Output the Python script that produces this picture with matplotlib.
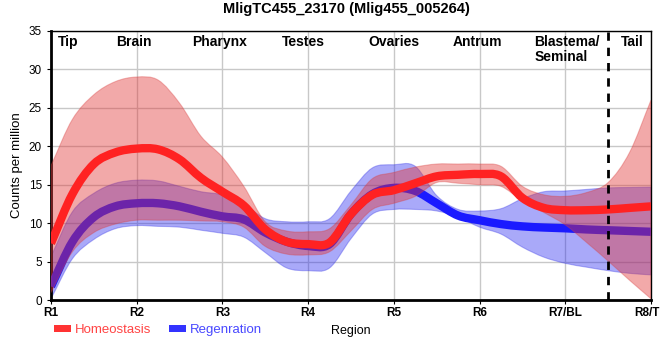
import numpy as np
import matplotlib
matplotlib.use("Agg")
import matplotlib.pyplot as plt
from matplotlib.path import Path
from matplotlib.patches import PathPatch, Patch

plt.rcParams['font.family'] = ['Liberation Sans', 'DejaVu Sans']

# ---------------- data ----------------
tick_labels = ["R1", "R2", "R3", "R4", "R5", "R6", "R7/BL", "R8/TP"]
region_names = ["Tip", "Brain", "Pharynx", "Testes", "Ovaries", "Antrum", "Blastema/\nSeminal", "Tail"]
region_pos = [0.2, 0.97, 1.97, 2.94, 4.0, 4.97, 5.64, 6.78]
region_ha = ["center", "center", "center", "center", "center", "center", "left", "center"]

positions = [0, 0.25, 0.5, 0.75, 1, 1.25, 1.5, 1.75, 2, 2.25, 2.5, 2.75, 3, 3.25,
             3.5, 3.75, 4, 4.25, 4.5, 4.75, 5, 5.25, 5.5, 5.75, 6, 6.25, 6.5, 6.75, 7]

homeo_mean = [7.4, 13.8, 17.7, 19.2, 19.7, 19.6, 18.3, 15.9, 14.1, 12.3, 9.2, 7.6, 7.3, 7.5,
              11.2, 13.7, 14.3, 15.2, 16.1, 16.3, 16.4, 16.1, 13.3, 12.0, 11.7, 11.7, 11.8, 12.0, 12.2]
homeo_upper = [17.5, 23.5, 26.7, 28.4, 29.0, 28.6, 25.6, 21.3, 18.6, 14.8, 10.2, 9.0, 8.9, 9.3,
               12.4, 15.8, 16.6, 17.3, 17.7, 17.7, 17.7, 17.4, 14.8, 13.7, 13.5, 14.0, 15.3, 19.2, 26.0]
homeo_lower = [1.0, 6.3, 8.8, 9.9, 10.4, 10.4, 10.4, 10.3, 10.2, 9.5, 7.0, 6.0, 5.9, 6.3,
               9.0, 11.8, 12.6, 13.5, 15.3, 15.2, 15.0, 14.8, 12.9, 11.4, 9.8, 7.5, 5.1, 2.6, 0.2]

regen_mean = [1.8, 7.6, 10.8, 12.2, 12.6, 12.6, 12.2, 11.5, 10.9, 10.5, 8.8, 7.6, 7.05, 7.3,
              11.2, 13.8, 14.6, 14.2, 12.6, 11.0, 10.4, 9.9, 9.6, 9.45, 9.35, 9.2, 9.1, 9.0, 8.9]
regen_upper = [5.7, 11.5, 13.9, 15.2, 15.6, 15.5, 14.8, 14.1, 13.7, 12.5, 10.6, 10.2, 10.2, 10.6,
               14.2, 17.2, 17.6, 17.4, 13.6, 11.8, 11.6, 11.9, 13.2, 14.1, 14.2, 14.4, 14.6, 14.65, 14.7]
regen_lower = [0.2, 5.4, 7.9, 9.3, 9.7, 9.6, 9.5, 9.1, 8.7, 8.2, 6.2, 4.2, 3.85, 4.2,
               8.0, 11.2, 11.8, 11.8, 11.6, 10.8, 9.5, 8.6, 6.9, 5.6, 4.8, 4.3, 3.85, 3.5, 3.3]

divider_pos = 6.5


# ------------- smooth Bezier path helpers -------------
def cr_slopes(x, y):
    x = np.asarray(x, float); y = np.asarray(y, float)
    m = np.zeros_like(y)
    m[0] = (y[1] - y[0]) / (x[1] - x[0])
    m[-1] = (y[-1] - y[-2]) / (x[-1] - x[-2])
    m[1:-1] = (y[2:] - y[:-2]) / (x[2:] - x[:-2])
    return m


def bezier_vertices(x, y):
    x = np.asarray(x, float); y = np.asarray(y, float)
    m = cr_slopes(x, y)
    verts = [(x[0], y[0])]
    codes = [Path.MOVETO]
    for i in range(len(x) - 1):
        h = x[i + 1] - x[i]
        verts += [(x[i] + h / 3, y[i] + m[i] * h / 3),
                  (x[i + 1] - h / 3, y[i + 1] - m[i + 1] * h / 3),
                  (x[i + 1], y[i + 1])]
        codes += [Path.CURVE4] * 3
    return verts, codes


def band_path(x, lo, hi):
    vu, cu = bezier_vertices(x, hi)
    vl, cl = bezier_vertices(x[::-1], lo[::-1])
    verts = vu + [vl[0]] + vl[1:] + [vu[0]]
    codes = cu + [Path.LINETO] + cl[1:] + [Path.CLOSEPOLY]
    return Path(verts, codes)


def line_path(x, y):
    v, c = bezier_vertices(x, y)
    return Path(v, c)


# ---------------- figure ----------------
fig = plt.figure(figsize=(6.6, 3.6), dpi=100)
ax = fig.add_axes([51 / 660, 1 - 300.3 / 360, 600 / 660, (300.3 - 30.8) / 360])

ax.set_xlim(0, 7)
ax.set_ylim(0, 35)
ax.set_xticks(range(len(tick_labels)))
ax.set_xticklabels(tick_labels, fontweight='bold', fontsize=8.5)
ax.set_yticks(range(0, 36, 5))
ax.tick_params(axis='y', labelsize=8.5, length=3, width=0.8)
ax.tick_params(axis='x', length=3, width=0.8, pad=2)
ax.grid(True, color='#c8c8c8', linewidth=1)
ax.set_axisbelow(True)
for s in ['left', 'bottom']:
    ax.spines[s].set_linewidth(2)
for s in ['top', 'right']:
    ax.spines[s].set_linewidth(1)

x = np.array(positions, float)

ax.add_patch(PathPatch(band_path(x, np.array(regen_lower), np.array(regen_upper)),
                       facecolor=(0.12, 0.12, 0.94, 0.38), edgecolor=(0.2, 0.2, 0.9, 0.35),
                       linewidth=0.8, zorder=2))
ax.add_patch(PathPatch(line_path(x, regen_mean), facecolor='none', edgecolor='#1a1aff',
                       linewidth=6, capstyle='butt', joinstyle='round', zorder=3))
ax.add_patch(PathPatch(band_path(x, np.array(homeo_lower), np.array(homeo_upper)),
                       facecolor=(0.88, 0.2, 0.2, 0.42), edgecolor=(0.85, 0.25, 0.25, 0.35),
                       linewidth=0.8, zorder=4))
ax.add_patch(PathPatch(line_path(x, homeo_mean), facecolor='none', edgecolor='#ff2222',
                       linewidth=6, capstyle='butt', joinstyle='round', zorder=5))

ax.axvline(divider_pos, color='black', linewidth=2, linestyle=(0, (3, 2.5)), zorder=6)

for name, p, ha in zip(region_names, region_pos, region_ha):
    ax.text(p, 34.4, name, ha=ha, va='top', fontsize=10, fontweight='bold',
            linespacing=1.05, zorder=7)

ax.set_ylabel("Counts per million", fontsize=9.5, labelpad=4)
fig.text(351 / 660, 1 - 331 / 360, "Region", ha='center', va='center', fontsize=9)
fig.text(346 / 660, 1 - 9 / 360, "MligTC455_23170 (Mlig455_005264)", ha='center',
         va='center', fontsize=10.5, fontweight='bold')

handles = [Patch(facecolor='#ff3333', edgecolor='none'), Patch(facecolor='#3333ff', edgecolor='none')]
leg = fig.legend(handles, ["Homeostasis", "Regenration"], loc='center left',
                 bbox_to_anchor=(42 / 660, 1 - 330 / 360), ncol=2, frameon=False,
                 fontsize=9.5, handlelength=1.3, handleheight=0.5, handletextpad=0.3,
                 columnspacing=1.3, labelcolor=['#ff4444', '#4848ff'])

fig.savefig("out.png", dpi=100)
